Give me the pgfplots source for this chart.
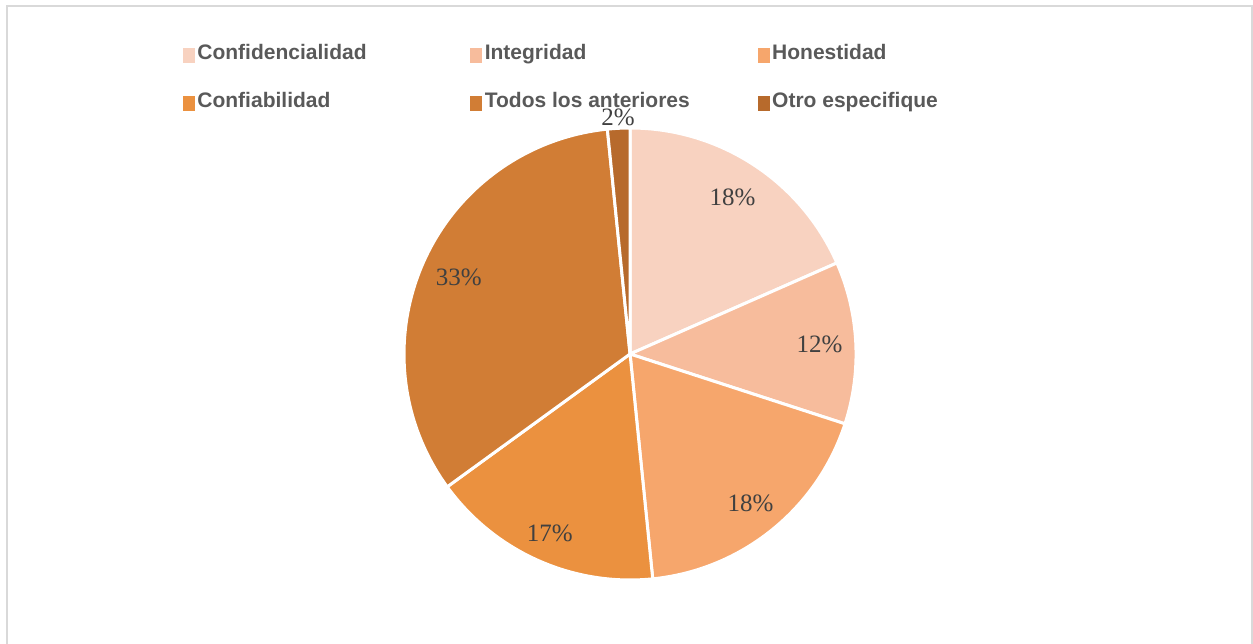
\documentclass[border=0pt]{standalone}
\usepackage{pgfplots}
\pgfplotsset{compat=1.18}
\usepackage{pgfplotstable}
\usepackage{fontspec}
\setmainfont{Liberation Sans}
\newfontfamily\labfont{Liberation Serif}
\definecolor{pie0}{HTML}{F8D2C0}
\definecolor{pie1}{HTML}{F7BC9C}
\definecolor{pie2}{HTML}{F6A66C}
\definecolor{pie3}{HTML}{EB913F}
\definecolor{pie4}{HTML}{D17D35}
\definecolor{pie5}{HTML}{B76A2C}
\definecolor{legtext}{HTML}{595959}
\definecolor{labtext}{HTML}{404040}
\definecolor{framec}{HTML}{D9D9D9}

\pgfplotstableread{
value labr
18.4 0.83
11.6 0.84
18.4 0.85
16.6 0.87
33.4 0.83
1.6 1.05
}\piedata

\begin{document}
\begin{tikzpicture}
\useasboundingbox (0,0) rectangle (1253pt,644pt);
\gdef\piecum{0}
\foreach \i in {0,...,5}{%
  \pgfplotstablegetelem{\i}{value}\of\piedata
  \let\pv\pgfplotsretval
  \pgfplotstablegetelem{\i}{labr}\of\piedata
  \let\pr\pgfplotsretval
  \pgfmathsetmacro\pa{90-3.6*\piecum}
  \pgfmathsetmacro\pb{90-3.6*(\piecum+\pv)}
  \pgfmathsetmacro\pm{(\pa+\pb)/2}
  \pgfmathtruncatemacro\pl{round(\pv)}
  \expandafter\xdef\csname pieA\i\endcsname{\pa}
  \expandafter\xdef\csname pieB\i\endcsname{\pb}
  \expandafter\xdef\csname pieM\i\endcsname{\pm}
  \expandafter\xdef\csname pieL\i\endcsname{\pl}
  \expandafter\xdef\csname pieR\i\endcsname{\pr}
  \pgfmathsetmacro\pc{\piecum+\pv}
  \xdef\piecum{\pc}
}
\begin{axis}[at={(0,0)}, anchor=south west, scale only axis,
  width=1253pt, height=644pt,
  xmin=-2.78761, xmax=2.75664, ymin=-1.28319, ymax=1.56637,
  hide axis, clip=false,
  legend columns=3,
  legend style={at={(axis description cs:0.14605,0.93012)}, anchor=north west,
    draw=none, fill=none, inner sep=0pt, outer sep=0pt,
    row sep=29pt, column sep=0pt,
    font=\bfseries\fontsize{21}{25}\selectfont, text=legtext,
    nodes={inner sep=0pt, text height=15pt, text depth=4pt},
    cells={anchor=base west}},
]
\pgfplotsinvokeforeach{0,...,5}{
  \fill[pie#1, draw=white, line width=3pt, line join=round]
    (axis cs:0,0) -- (axis cs:{cos(\csname pieA#1\endcsname)},{sin(\csname pieA#1\endcsname)})
    arc[start angle=\csname pieA#1\endcsname, end angle=\csname pieB#1\endcsname, radius=226pt] -- cycle;
}
\pgfplotsinvokeforeach{0,...,5}{
  \node[font=\labfont\fontsize{25}{29}\selectfont, text=labtext, inner sep=0pt]
    at (axis cs:{\csname pieR#1\endcsname*cos(\csname pieM#1\endcsname)},{\csname pieR#1\endcsname*sin(\csname pieM#1\endcsname)})
    {\csname pieL#1\endcsname\%};
}
\addlegendimage{legend image code/.code={\fill[pie0] (0pt,-2.5pt) rectangle (11pt,11.5pt);}}
\addlegendentry{\makebox[276pt][l]{\hspace{3pt}Confidencialidad}}
\addlegendimage{legend image code/.code={\fill[pie1] (0pt,-2.5pt) rectangle (11pt,11.5pt);}}
\addlegendentry{\makebox[276pt][l]{\hspace{3pt}Integridad}}
\addlegendimage{legend image code/.code={\fill[pie2] (0pt,-2.5pt) rectangle (11pt,11.5pt);}}
\addlegendentry{\makebox[276pt][l]{\hspace{3pt}Honestidad}}
\addlegendimage{legend image code/.code={\fill[pie3] (0pt,-2.5pt) rectangle (11pt,11.5pt);}}
\addlegendentry{\makebox[276pt][l]{\hspace{3pt}Confiabilidad}}
\addlegendimage{legend image code/.code={\fill[pie4] (0pt,-2.5pt) rectangle (11pt,11.5pt);}}
\addlegendentry{\makebox[276pt][l]{\hspace{3pt}Todos los anteriores}}
\addlegendimage{legend image code/.code={\fill[pie5] (0pt,-2.5pt) rectangle (11pt,11.5pt);}}
\addlegendentry{\makebox[276pt][l]{\hspace{3pt}Otro especifique}}
\end{axis}
\draw[framec, line width=2pt] (6.5pt,-5pt) -- (6.5pt,637.7pt) -- (1252pt,637.7pt) -- (1252pt,-5pt);
\end{tikzpicture}
\end{document}
